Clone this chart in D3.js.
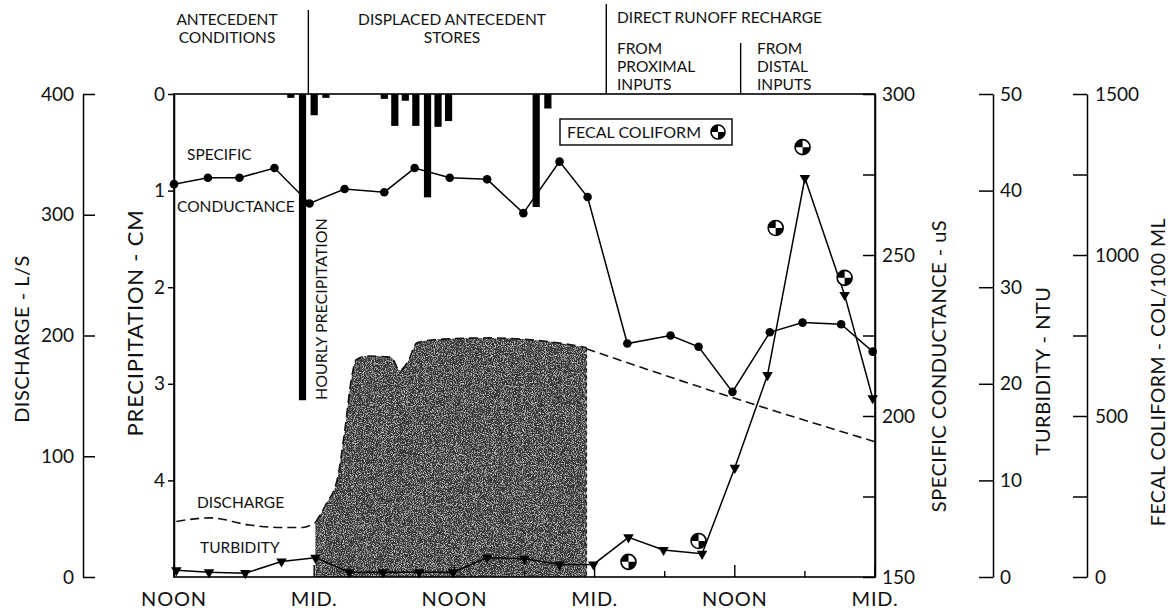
<!DOCTYPE html>
<html><head><meta charset="utf-8">
<script src="https://cdn.jsdelivr.net/npm/d3@7"></script>
<style>
body{margin:0;background:#fff;}
text{font-family:Lato,"Open Sans",sans-serif;fill:#111;}
</style></head><body>
<svg id="c" width="1170" height="613"></svg>
<script>
// ---------- data (hours after first NOON) ----------
const xTickHours = [0,6,12,18,24,30,36,42,48,54,60];
const xLabelHours = [0,12,24,36,48,60];
const xLabels = ["NOON","MID.","NOON","MID.","NOON","MID."];

const precipHours = [10,11,12,13,18,18.9,19.8,20.7,21.7,22.6,23.5,31,32];
const precipCm    = [0.04,3.17,0.22,0.04,0.05,0.33,0.07,0.33,1.07,0.34,0.28,1.17,0.15];

const scHours  = [0,2.9,5.6,8.6,11.6,14.6,18.0,20.6,23.6,26.8,29.9,33.0,35.4,38.8,42.5,44.9,47.8,51.0,53.8,57.1,59.8];
const scValues = [272,274,274,277,266,270.5,269.5,277,274,273.5,263,279,268,222.5,225,221.5,207.5,226,229,228.5,220];

const turbHours  = [0.2,3.0,6.1,9.2,12.1,15.0,17.9,21.0,23.9,26.8,30.0,33.0,35.9,38.9,41.9,45.2,48.0,50.8,54.0,57.4,59.8];
const turbValues = [0.7,0.5,0.4,1.6,2.0,0.5,0.5,0.5,0.5,2.0,1.9,1.3,1.3,4.1,2.8,2.4,11.3,20.9,41.3,29.2,18.5];

const fecalHours  = [38.9,44.9,51.5,53.8,57.4];
const fecalValues = [47,112,1084,1335,929];

const qBaseHours  = [0.2,3.1,6.5,9.1,11.0,12.1];
const qBaseValues = [46,49,43,41,41,45];
const qStormHours  = [12.1,13.0,14.0,14.6,15.2,15.6,16.5,18.6,19.3,20.0,20.8,23.0,27.0,31.0,33.5,35.3];
const qStormValues = [45,60,82,120,165,180,183,182,171,178,194,197,198,196,193,190];
const qRecessHours  = [35.3,48.0,60.0];
const qRecessValues = [189,148,112];

const phaseLines = [11.5,37.0,48.5];

// ---------- layout ----------
const svg = d3.select("#c");
const L=174,R=875,T=94,B=577;
const x   = d3.scaleLinear().domain([0,60]).range([L,R]);
const yP  = d3.scaleLinear().domain([0,5]).range([T,B]);
const yQ  = d3.scaleLinear().domain([0,400]).range([B,T]);
const ySC = d3.scaleLinear().domain([150,300]).range([B,T]);
const yT  = d3.scaleLinear().domain([0,50]).range([B,T]);
const yF  = d3.scaleLinear().domain([0,1500]).range([B,T]);

// texture filter
const defs = svg.append("defs");
const f = defs.append("filter").attr("id","stip").attr("x","0").attr("y","0").attr("width","1").attr("height","1");
f.append("feTurbulence").attr("type","fractalNoise").attr("baseFrequency","1.1").attr("numOctaves","2").attr("seed","4").attr("result","n");
f.append("feColorMatrix").attr("in","n").attr("type","matrix")
  .attr("values","0 0 0 0 0.8  0 0 0 0 0.8  0 0 0 0 0.8  2.4 0 0 0 -1.15").attr("result","sp");
f.append("feFlood").attr("flood-color","#353535").attr("result","dk");
f.append("feComposite").attr("in","sp").attr("in2","dk").attr("operator","over").attr("result","tx");
f.append("feComposite").attr("in","tx").attr("in2","SourceAlpha").attr("operator","in");

// storm hydrograph blob
const stormData = qStormHours.map((h,i)=>[h,qStormValues[i]]);
const area = d3.area().x(d=>x(d[0])).y0(yQ(0)).y1(d=>yQ(d[1])).curve(d3.curveMonotoneX);
svg.append("path").datum(stormData).attr("d",area).attr("fill","#000").attr("filter","url(#stip)");

// discharge dashed lines
const qLine = d3.line().x(d=>x(d[0])).y(d=>yQ(d[1])).curve(d3.curveMonotoneX);
[[qBaseHours,qBaseValues],[qStormHours,qStormValues],[qRecessHours,qRecessValues]].forEach(([h,v])=>{
  svg.append("path").datum(h.map((d,i)=>[d,v[i]])).attr("d",qLine)
    .attr("fill","none").attr("stroke","#111").attr("stroke-width",1.6).attr("stroke-dasharray","9,5");
});
svg.append("line").attr("x1",x(qStormHours[qStormHours.length-1])).attr("x2",x(qStormHours[qStormHours.length-1]))
  .attr("y1",yQ(qStormValues[qStormValues.length-1])).attr("y2",yQ(0))
  .attr("stroke","#222").attr("stroke-width",1.4).attr("stroke-dasharray","4,3");

// precipitation bars
svg.append("g").selectAll("rect").data(precipHours).join("rect")
  .attr("x",(d)=>x(d)-3.6).attr("width",7.2).attr("y",yP(0))
  .attr("height",(d,i)=>yP(precipCm[i])-yP(0)).attr("fill","#000");

// specific conductance
const scData = scHours.map((h,i)=>[h,scValues[i]]);
svg.append("path").datum(scData).attr("d",d3.line().x(d=>x(d[0])).y(d=>ySC(d[1])))
  .attr("fill","none").attr("stroke","#000").attr("stroke-width",1.5);
svg.append("g").selectAll("circle").data(scData).join("circle")
  .attr("cx",d=>x(d[0])).attr("cy",d=>ySC(d[1])).attr("r",4.3).attr("fill","#000");

// turbidity
const tData = turbHours.map((h,i)=>[h,turbValues[i]]);
svg.append("path").datum(tData).attr("d",d3.line().x(d=>x(d[0])).y(d=>yT(d[1])))
  .attr("fill","none").attr("stroke","#000").attr("stroke-width",1.5);
const tri = d3.symbol().type(d3.symbolTriangle).size(48);
svg.append("g").selectAll("path").data(tData).join("path")
  .attr("d",tri).attr("transform",d=>`translate(${x(d[0])},${yT(d[1])}) rotate(180)`).attr("fill","#000");

// fecal coliform markers
function fecalMarker(g,cx,cy,r){
  const m=g.append("g").attr("transform",`translate(${cx},${cy})`);
  m.append("circle").attr("r",r).attr("fill","#fff").attr("stroke","#000").attr("stroke-width",1.6);
  const arc=d3.arc().innerRadius(0).outerRadius(r);
  m.append("path").attr("d",arc({startAngle:-Math.PI/2,endAngle:0})).attr("fill","#000");
  m.append("path").attr("d",arc({startAngle:Math.PI/2,endAngle:Math.PI})).attr("fill","#000");
}
fecalHours.forEach((h,i)=>fecalMarker(svg,x(h),yF(fecalValues[i]),7.5));

// frame
svg.append("rect").attr("x",L).attr("y",T).attr("width",R-L).attr("height",B-T)
  .attr("fill","none").attr("stroke","#000").attr("stroke-width",1.6);

// x ticks (inside) + labels
svg.append("g").selectAll("line").data(xTickHours).join("line")
  .attr("x1",d=>x(d)).attr("x2",d=>x(d)).attr("y1",B).attr("y2",d=>B-(d%12===0?12:6))
  .attr("stroke","#000").attr("stroke-width",1.4);
svg.append("g").selectAll("text").data(xLabelHours).join("text")
  .attr("x",d=>x(d)).attr("y",606).attr("text-anchor","middle").attr("font-size",20).attr("letter-spacing",0.8)
  .text((d,i)=>xLabels[i]);

// axes
function styleAxis(g){g.selectAll("path,line").attr("stroke","#000").attr("stroke-width",1.5);
  g.selectAll("text").attr("font-size",19).attr("font-family","Lato,'Open Sans',sans-serif").attr("fill","#111");}
svg.append("g").attr("transform","translate(83,0)")
  .call(d3.axisLeft(yQ).tickValues([0,100,200,300,400]).tickSizeInner(-12).tickSizeOuter(0).tickPadding(9)).call(styleAxis);
svg.append("g").attr("transform",`translate(${L},0)`)
  .call(d3.axisLeft(yP).tickValues([0,1,2,3,4]).tickFormat(d3.format("d")).tickSizeInner(6).tickSizeOuter(0).tickPadding(3)).call(styleAxis);
svg.append("g").attr("transform",`translate(${R},0)`)
  .call(d3.axisRight(ySC).tickValues(d3.range(150,301,25)).tickFormat(d=>d%50===0?d:"").tickSizeInner(-12).tickSizeOuter(0).tickPadding(7)).call(styleAxis);
svg.append("g").attr("transform","translate(993,0)")
  .call(d3.axisRight(yT).tickValues([0,10,20,30,40,50]).tickSizeInner(-14).tickSizeOuter(0).tickPadding(7)).call(styleAxis);
svg.append("g").attr("transform","translate(1087,0)")
  .call(d3.axisRight(yF).tickValues(d3.range(0,1501,250)).tickFormat(d=>d%500===0?d:"").tickSizeInner(-14).tickSizeOuter(0).tickPadding(8)).call(styleAxis);

// axis titles
function vtitle(xp,yp,txt,fs,ls){svg.append("text").attr("transform",`translate(${xp},${yp}) rotate(-90)`)
  .attr("text-anchor","middle").attr("font-size",fs).attr("letter-spacing",ls).text(txt);}
vtitle(29,339,"DISCHARGE - L/S",20,0.5);
vtitle(143,323,"PRECIPITATION - CM",22,0.8);
vtitle(946,366,"SPECIFIC CONDUCTANCE - uS",20,0.5);
vtitle(1050,371,"TURBIDITY - NTU",20,0.5);
vtitle(1165,372,"FECAL COLIFORM - COL/100 ML",19.5,0.5);

// in-plot labels
function lab(xp,yp,txt,fs){svg.append("text").attr("x",xp).attr("y",yp).attr("font-size",fs||15.5).text(txt);}
lab(187,160,"SPECIFIC");
lab(177,212,"CONDUCTANCE");
lab(197,508,"DISCHARGE");
lab(200,553,"TURBIDITY");
svg.append("text").attr("transform","translate(327,400) rotate(-90)").attr("font-size",16).text("HOURLY PRECIPITATION");

// legend box
svg.append("rect").attr("x",560).attr("y",119).attr("width",172).attr("height",26).attr("fill","#fff").attr("stroke","#000").attr("stroke-width",1.4);
lab(567,138,"FECAL COLIFORM",16);
fecalMarker(svg,718,132,7);

// phase headers
phaseLines.forEach((h,i)=>{
  svg.append("line").attr("x1",x(h)).attr("x2",x(h)).attr("y1",i===2?43:(i===0?10:4)).attr("y2",T)
    .attr("stroke","#000").attr("stroke-width",1.4);
});
function hdr(xp,yp,txt,anchor){svg.append("text").attr("x",xp).attr("y",yp).attr("text-anchor",anchor||"start").attr("font-size",15.5).text(txt);}
hdr(227,25,"ANTECEDENT","middle"); hdr(227,43,"CONDITIONS","middle");
hdr(452,25,"DISPLACED ANTECEDENT","middle"); hdr(452,43,"STORES","middle");
hdr(617,23,"DIRECT RUNOFF RECHARGE");
hdr(617,54,"FROM"); hdr(617,72,"PROXIMAL"); hdr(617,90,"INPUTS");
hdr(757,54,"FROM"); hdr(757,72,"DISTAL"); hdr(757,90,"INPUTS");
</script></body></html>
